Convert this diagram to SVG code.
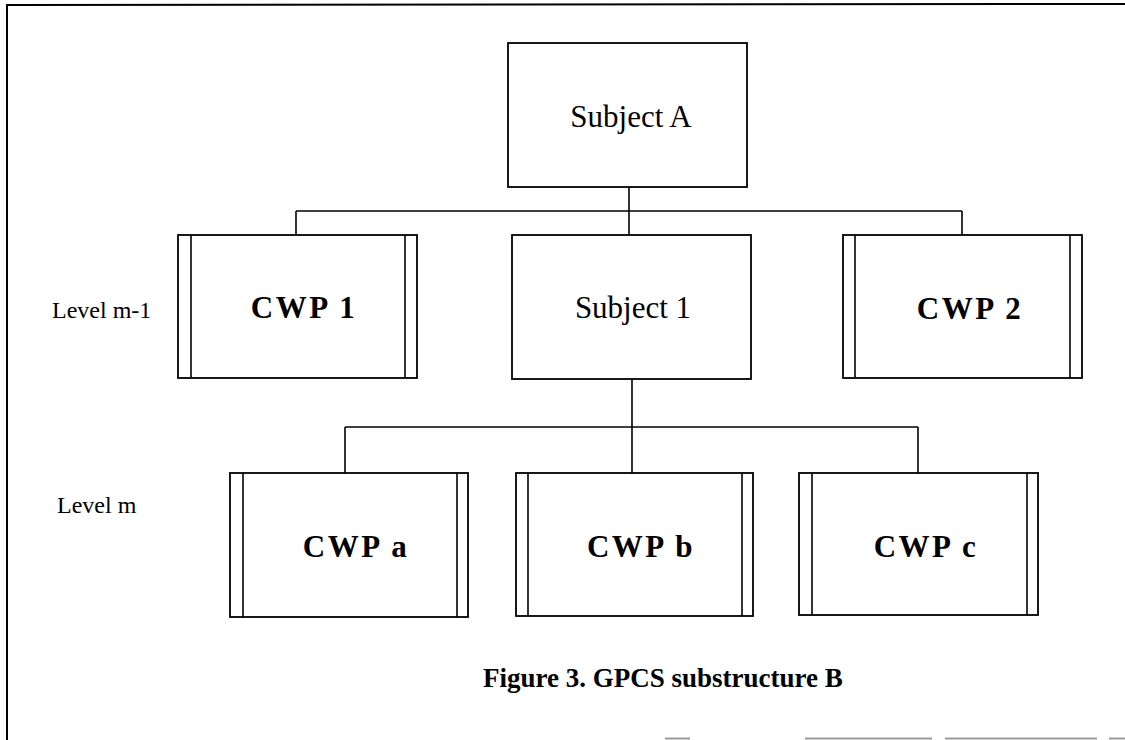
<svg xmlns="http://www.w3.org/2000/svg" width="1125" height="740" viewBox="0 0 1125 740">
  <style>
    .box { fill: #ffffff; stroke: #000000; stroke-width: 1.8; }
    .bar { stroke: #000000; stroke-width: 1.6; }
    .wire { fill: none; stroke: #000000; stroke-width: 1.6; }
    .frame { fill: none; stroke: #000000; stroke-width: 2; }
    .plain { font-family: "Liberation Serif", "Times New Roman", serif; font-size: 31px; fill: #000000; text-anchor: middle; }
    .cwp { font-family: "Liberation Serif", "Times New Roman", serif; font-size: 31px; font-weight: bold; letter-spacing: 2.5px; fill: #000000; text-anchor: middle; }
    .level { font-family: "Liberation Serif", "Times New Roman", serif; font-size: 24px; fill: #000000; }
    .caption { font-family: "Liberation Serif", "Times New Roman", serif; font-size: 27px; font-weight: bold; fill: #000000; }
  </style>

  <!-- page frame: top and left edges, faint broken bottom edge -->
  <g id="frame">
    <path class="frame" d="M7,740 L7,5 L1125,4"/>
    <path d="M665,738.5 L690,738.5 M805,738.5 L932,738.5 M945,738.5 L1097,738.5 M1109,738.5 L1125,738.5" stroke="#9a9a9a" stroke-width="2" fill="none"/>
  </g>

  <!-- tree connectors -->
  <g id="connectors">
    <path class="wire" d="M629,187 L629,235"/>
    <path class="wire" d="M296,211 L962,211"/>
    <path class="wire" d="M296,211 L296,235"/>
    <path class="wire" d="M962,211 L962,235"/>
    <path class="wire" d="M632,379 L632,473"/>
    <path class="wire" d="M345,427 L918,427"/>
    <path class="wire" d="M345,427 L345,473"/>
    <path class="wire" d="M918,427 L918,473"/>
  </g>

  <!-- level labels -->
  <g id="levels">
    <text class="level" x="52" y="318">Level m-1</text>
    <text class="level" x="57" y="513">Level m</text>
  </g>

  <g id="subject-a">
    <rect class="box" x="508" y="43" width="239" height="144"/>
    <text class="plain" x="631" y="127">Subject A</text>
  </g>

  <g id="cwp-1">
    <rect class="box" x="178" y="235" width="239" height="143"/>
    <line class="bar" x1="191" y1="235" x2="191" y2="378"/>
    <line class="bar" x1="405" y1="235" x2="405" y2="378"/>
    <text class="cwp" x="304" y="318">CWP 1</text>
  </g>

  <g id="subject-1">
    <rect class="box" x="512" y="235" width="239" height="144"/>
    <text class="plain" x="633" y="318">Subject 1</text>
  </g>

  <g id="cwp-2">
    <rect class="box" x="843" y="235" width="239" height="143"/>
    <line class="bar" x1="855" y1="235" x2="855" y2="378"/>
    <line class="bar" x1="1070" y1="235" x2="1070" y2="378"/>
    <text class="cwp" x="970" y="319">CWP 2</text>
  </g>

  <g id="cwp-a">
    <rect class="box" x="230" y="473" width="238" height="144"/>
    <line class="bar" x1="243" y1="473" x2="243" y2="617"/>
    <line class="bar" x1="457" y1="473" x2="457" y2="617"/>
    <text class="cwp" x="356" y="557">CWP a</text>
  </g>

  <g id="cwp-b">
    <rect class="box" x="516" y="473" width="237" height="143"/>
    <line class="bar" x1="528" y1="473" x2="528" y2="616"/>
    <line class="bar" x1="742" y1="473" x2="742" y2="616"/>
    <text class="cwp" x="641" y="557">CWP b</text>
  </g>

  <g id="cwp-c">
    <rect class="box" x="799" y="473" width="239" height="142"/>
    <line class="bar" x1="812" y1="473" x2="812" y2="615"/>
    <line class="bar" x1="1027" y1="473" x2="1027" y2="615"/>
    <text class="cwp" x="926" y="557">CWP c</text>
  </g>

  <g id="caption">
    <text class="caption" x="483" y="687">Figure 3. GPCS substructure B</text>
  </g>
</svg>
